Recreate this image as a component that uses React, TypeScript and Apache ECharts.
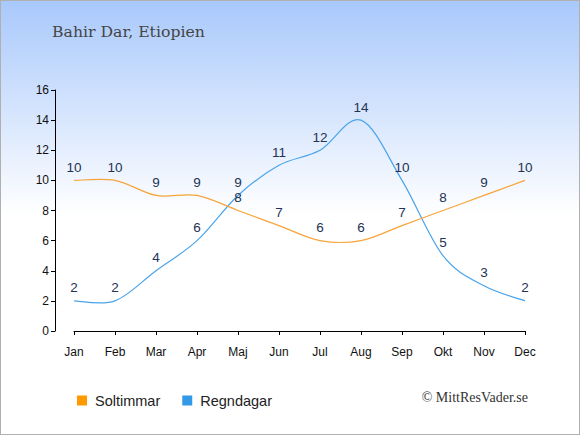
import React, { useEffect, useRef } from "react";
import * as echarts from "echarts";

const months = ["Jan", "Feb", "Mar", "Apr", "Maj", "Jun", "Jul", "Aug", "Sep", "Okt", "Nov", "Dec"];
const sunHours = [10, 10, 9, 9, 8, 7, 6, 6, 7, 8, 9, 10];
const rainDays = [2, 2, 4, 6, 9, 11, 12, 14, 10, 5, 3, 2];
const yTicks = { min: 0, max: 16, interval: 2 };
const title = "Bahir Dar, Etiopien";
const credit = "© MittResVader.se";

function splineRenderer(values: number[], color: string) {
  return (params: any, api: any) => {
    if (params.dataIndex !== 0) return null;
    const pts = values.map((v, i) => api.coord([i, v]));
    const n = pts.length;
    let d = `M${pts[0][0]},${pts[0][1]}`;
    for (let i = 0; i < n - 1; i++) {
      const p0 = pts[Math.max(0, i - 1)];
      const p1 = pts[i];
      const p2 = pts[i + 1];
      const p3 = pts[Math.min(n - 1, i + 2)];
      const c1x = p1[0] + (p2[0] - p0[0]) / 6;
      const c1y = p1[1] + (p2[1] - p0[1]) / 6;
      const c2x = p2[0] - (p3[0] - p1[0]) / 6;
      const c2y = p2[1] - (p3[1] - p1[1]) / 6;
      d += ` C${c1x},${c1y} ${c2x},${c2y} ${p2[0]},${p2[1]}`;
    }
    return {
      type: "path",
      shape: { pathData: d },
      style: { fill: "none", stroke: color, lineWidth: 1.2 },
    };
  };
}

export default function App() {
  const ref = useRef<HTMLDivElement>(null);
  useEffect(() => {
    document.body.style.margin = "0";
    const chart = echarts.init(ref.current!, null, { renderer: "svg" });
    const labelStyle = {
      show: true,
      position: "top" as const,
      distance: 6,
      fontFamily: "Liberation Sans, Arial, sans-serif",
      fontSize: 13.5,
      color: "#223355",
    };
    chart.setOption({
      animation: false,
      backgroundColor: "transparent",
      title: {
        text: title,
        left: 52,
        top: 23,
        padding: 0,
        textStyle: {
          fontFamily: "DejaVu Serif, serif",
          fontSize: 15.7,
          fontWeight: "normal",
          color: "#444444",
        },
      },
      legend: {
        left: 77,
        top: 393,
        padding: 0,
        itemWidth: 10,
        itemHeight: 10,
        itemGap: 22,
        icon: "rect",
        textStyle: {
          fontFamily: "Liberation Sans, Arial, sans-serif",
          fontSize: 14.5,
          color: "#222222",
          padding: [0, 0, 0, 3],
        },
        data: ["Soltimmar", "Regndagar"],
      },
      grid: { left: 74, right: 55, top: 90, bottom: 104 },
      xAxis: {
        type: "category",
        data: months,
        boundaryGap: false,
        offset: 10,
        axisLine: { lineStyle: { color: "#000", width: 1 } },
        axisTick: { show: true, length: 4, alignWithLabel: true, lineStyle: { color: "#000" } },
        axisLabel: {
          fontFamily: "Liberation Sans, Arial, sans-serif",
          fontSize: 12,
          color: "#111",
          margin: 5,
        },
        splitLine: { show: false },
      },
      yAxis: {
        type: "value",
        min: yTicks.min,
        max: yTicks.max,
        interval: yTicks.interval,
        offset: 19,
        axisLine: { show: true, lineStyle: { color: "#000", width: 1 } },
        axisTick: { show: true, length: 4, lineStyle: { color: "#000" } },
        axisLabel: {
          fontFamily: "Liberation Sans, Arial, sans-serif",
          fontSize: 12,
          color: "#111",
          margin: 6,
        },
        splitLine: { show: false },
      },
      series: [
        {
          name: "sunCurve",
          type: "custom",
          data: sunHours.map((v, i) => [i, v]),
          renderItem: splineRenderer(sunHours, "#f7a43a"),
          silent: true,
          z: 3,
        },
        {
          name: "rainCurve",
          type: "custom",
          data: rainDays.map((v, i) => [i, v]),
          renderItem: splineRenderer(rainDays, "#4aa3ea"),
          silent: true,
          z: 2,
        },
        {
          name: "Soltimmar",
          type: "line",
          data: sunHours,
          symbol: "circle",
          symbolSize: 0.01,
          showSymbol: true,
          itemStyle: { color: "#ff9900" },
          lineStyle: { opacity: 0, width: 0 },
          label: labelStyle,
          z: 4,
        },
        {
          name: "Regndagar",
          type: "line",
          data: rainDays,
          symbol: "circle",
          symbolSize: 0.01,
          showSymbol: true,
          itemStyle: { color: "#3399e6" },
          lineStyle: { opacity: 0, width: 0 },
          label: labelStyle,
          z: 4,
        },
      ],
      graphic: [
        {
          type: "text",
          right: 52,
          top: 390,
          style: {
            text: credit,
            fontFamily: "Liberation Serif, serif",
            fontSize: 14,
            fill: "#333333",
          },
        },
      ],
    });
    return () => chart.dispose();
  }, []);
  return (
    <div
      style={{
        position: "fixed",
        left: 0,
        top: 0,
        width: 580,
        height: 435,
        background: "linear-gradient(to bottom, #a8c8fb 0px, #ffffff 215px, #ffffff 435px)",
      }}
    >
      <div ref={ref} style={{ position: "absolute", left: 0, top: 0, width: 580, height: 435 }} />
      <div
        style={{
          position: "absolute",
          left: 0,
          top: 0,
          width: 580,
          height: 435,
          boxSizing: "border-box",
          border: "1px solid #b0b0b0",
          pointerEvents: "none",
        }}
      />
    </div>
  );
}
